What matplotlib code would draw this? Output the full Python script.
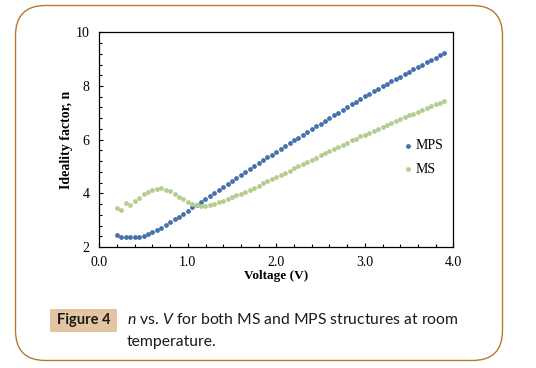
import numpy as np
import matplotlib
matplotlib.use('Agg')
import matplotlib.pyplot as plt
from matplotlib.patches import FancyBboxPatch, Rectangle
from matplotlib.ticker import MultipleLocator

# voltage steps (V)
voltage = [0.20, 0.25, 0.30, 0.35, 0.40, 0.45, 0.50, 0.55, 0.60, 0.65,
           0.70, 0.75, 0.80, 0.85, 0.90, 0.95, 1.00, 1.05, 1.10, 1.15,
           1.20, 1.25, 1.30, 1.35, 1.40, 1.45, 1.50, 1.55, 1.60, 1.65,
           1.70, 1.75, 1.80, 1.85, 1.90, 1.95, 2.00, 2.05, 2.10, 2.15,
           2.20, 2.25, 2.30, 2.35, 2.40, 2.45, 2.50, 2.55, 2.60, 2.65,
           2.70, 2.75, 2.80, 2.85, 2.90, 2.95, 3.00, 3.05, 3.10, 3.15,
           3.20, 3.25, 3.30, 3.35, 3.40, 3.45, 3.50, 3.55, 3.60, 3.65,
           3.70, 3.75, 3.80, 3.85, 3.90]

n_mps = [2.45, 2.38, 2.36, 2.36, 2.36, 2.38, 2.42, 2.47, 2.55, 2.62,
         2.72, 2.81, 2.92, 3.03, 3.13, 3.24, 3.36, 3.48, 3.57, 3.68,
         3.80, 3.91, 4.03, 4.14, 4.25, 4.36, 4.47, 4.58, 4.69, 4.80,
         4.91, 5.02, 5.12, 5.23, 5.34, 5.44, 5.55, 5.65, 5.76, 5.86,
         5.97, 6.07, 6.18, 6.28, 6.39, 6.49, 6.59, 6.70, 6.80, 6.90,
         7.00, 7.11, 7.21, 7.31, 7.41, 7.51, 7.61, 7.70, 7.80, 7.89,
         7.99, 8.08, 8.17, 8.26, 8.35, 8.44, 8.53, 8.62, 8.71, 8.80,
         8.88, 8.97, 9.05, 9.14, 9.22]

n_ms = [3.46, 3.39, 3.65, 3.57, 3.71, 3.83, 3.97, 4.06, 4.13, 4.17,
        4.18, 4.13, 4.08, 3.98, 3.87, 3.77, 3.66, 3.60, 3.55, 3.52,
        3.53, 3.55, 3.60, 3.66, 3.72, 3.78, 3.85, 3.92, 3.99, 4.06,
        4.14, 4.21, 4.29, 4.37, 4.45, 4.53, 4.61, 4.69, 4.77, 4.85,
        4.93, 5.01, 5.09, 5.17, 5.25, 5.33, 5.41, 5.49, 5.57, 5.65,
        5.73, 5.81, 5.89, 5.97, 6.04, 6.12, 6.19, 6.26, 6.34, 6.41,
        6.48, 6.55, 6.62, 6.69, 6.76, 6.83, 6.90, 6.96, 7.03, 7.10,
        7.17, 7.24, 7.31, 7.37, 7.44]

plt.rcParams['font.family'] = ['Liberation Serif', 'DejaVu Serif']
plt.rcParams['mathtext.fontset'] = 'custom'
plt.rcParams['mathtext.it'] = 'Lato:italic'
plt.rcParams['mathtext.rm'] = 'Lato'

fig = plt.figure(figsize=(5.36, 3.68), dpi=100)

# background frame in pixel coordinates
bg = fig.add_axes([0, 0, 1, 1])
bg.set_xlim(0, 536)
bg.set_ylim(368, 0)
bg.axis('off')
bg.add_patch(FancyBboxPatch((15.5, 5.5), 487, 355,
                            boxstyle='round,pad=0,rounding_size=30',
                            fc='white', ec='#B8782F', lw=1.0))
bg.add_patch(Rectangle((50, 308.5), 67, 23, fc='#E3C6A1', ec='none'))
bg.text(83.5, 320, 'Figure 4', family='Lato', weight='bold', fontsize=10.5,
        ha='center', va='center', color='#1a1a1a')
bg.text(127, 320, r'$n$ vs. $V$ for both MS and MPS structures at room',
        family='Lato', fontsize=11.3, ha='left', va='center', color='#1a1a1a')
bg.text(127, 342, 'temperature.', family='Lato', fontsize=11.3,
        ha='left', va='center', color='#1a1a1a')

ax = fig.add_axes([99.3 / 536, 1 - 247 / 368, 354 / 536, 214.7 / 368])
ax.scatter(voltage, n_mps, s=12, color='#4470AC', label='MPS', zorder=3,
           linewidths=0)
ax.scatter(voltage, n_ms, s=12, color='#B5CD8F', label='MS', zorder=3,
           linewidths=0)

ax.set_xlim(0, 4)
ax.set_ylim(2, 10)
ax.xaxis.set_major_locator(MultipleLocator(1))
ax.xaxis.set_minor_locator(MultipleLocator(0.2))
ax.yaxis.set_major_locator(MultipleLocator(2))
ax.yaxis.set_minor_locator(MultipleLocator(0.4))
ax.set_xticklabels([f'{v:.1f}' for v in ax.get_xticks()])
ax.tick_params(which='both', direction='in', top=False, right=False,
               labelsize=10, width=0.8)
ax.tick_params(which='major', length=2.6)
ax.tick_params(which='minor', length=2.4)
ax.tick_params(axis='y', pad=7)
ax.tick_params(axis='x', pad=6.5)
for s in ax.spines.values():
    s.set_linewidth(0.9)

ax.set_xlabel('Voltage (V)', fontsize=9.5, weight='bold', labelpad=1)
ax.set_ylabel('Ideality factor, n', fontsize=10, weight='bold', labelpad=2)

ax.legend(loc='center left', bbox_to_anchor=(0.826, 0.417), frameon=False,
          fontsize=10, handlelength=0.5, handletextpad=0.3,
          labelspacing=0.75, markerscale=1.0)

fig.savefig('out.png', dpi=100)
